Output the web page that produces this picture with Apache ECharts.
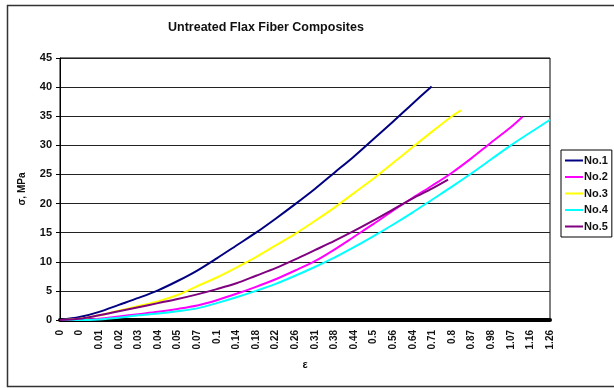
<!DOCTYPE html>
<html>
<head>
<meta charset="utf-8">
<script src="https://cdn.jsdelivr.net/npm/echarts@6/dist/echarts.min.js"></script>
<style>html,body{margin:0;padding:0;background:#fff}#c{width:614px;height:388px}</style>
</head>
<body>
<div id="c"></div>
<script>
var xLabels = ['0','0','0.01','0.02','0.03','0.04','0.05','0.07','0.1','0.14','0.18','0.22','0.26','0.31','0.38','0.44','0.5','0.56','0.64','0.71','0.8','0.87','0.98','1.07','1.16','1.26'];
var yTicks = [0,5,10,15,20,25,30,35,40,45];
var seriesNames = ['No.1','No.2','No.3','No.4','No.5'];
var seriesColors = ['#000080','#FF00FF','#FFFF00','#00FFFF','#800080'];
// [category position, stress MPa]
var no1 = [[0,0],[1,0.5],[2,1.4],[3,2.6],[4,3.8],[5,5.1],[6,6.7],[7,8.5],[8,10.6],[9,12.8],[10,15.0],[11,17.4],[12,19.9],[13,22.5],[14,25.3],[15,28.1],[16,31.1],[17,34.1],[18,37.2],[18.96,40.1]];
var no2 = [[0,0],[1,0],[2,0.2],[3,0.6],[4,1.0],[5,1.4],[6,1.9],[7,2.5],[8,3.4],[9,4.5],[10,5.7],[11,7.0],[12,8.5],[13,10.1],[14,12.1],[15,14.3],[16,16.5],[17,18.8],[18,21.0],[19,23.1],[20,25.3],[21,27.8],[22,30.5],[23,33.1],[23.6,34.9]];
var no3 = [[0,0],[1,0.2],[2,0.8],[3,1.6],[4,2.4],[5,3.2],[6,4.3],[7,5.8],[8,7.3],[9,9.0],[10,10.8],[11,12.8],[12,14.8],[13,17.0],[14,19.3],[15,21.8],[16,24.3],[17,27.0],[18,29.7],[19,32.4],[20,35.0],[20.46,36.0]];
var no4 = [[0,0],[1,0],[2,0.1],[3,0.4],[4,0.8],[5,1.1],[6,1.5],[7,2.0],[8,2.9],[9,3.9],[10,5.0],[11,6.2],[12,7.6],[13,9.1],[14,10.7],[15,12.5],[16,14.4],[17,16.4],[18,18.5],[19,20.7],[20,22.9],[21,25.2],[22,27.6],[23,30.0],[24,32.2],[25,34.4]];
var no5 = [[0,0],[1,0.2],[2,0.8],[3,1.5],[4,2.2],[5,2.9],[6,3.6],[7,4.4],[8,5.3],[9,6.3],[10,7.6],[11,8.9],[12,10.4],[13,12.0],[14,13.6],[15,15.3],[16,17.1],[17,19.0],[18,20.9],[19,22.6],[19.8,24.1]];
var allData = [no1,no2,no3,no4,no5];

var chart = echarts.init(document.getElementById('c'), null, {renderer:'canvas'});
var F = 'Liberation Sans, Arial, sans-serif';
chart.setOption({
  animation:false,
  backgroundColor:'#fff',
  title:{text:'Untreated Flax Fiber Composites',left:163,top:16,
    textStyle:{fontFamily:F,fontSize:12.5,fontWeight:'bold',color:'#111'}},
  graphic:[{type:'rect',shape:{x:7.5,y:5.5,width:620,height:381},
    style:{fill:'none',stroke:'#333',lineWidth:1.5},silent:true}],
  legend:{orient:'vertical',left:561,top:150,itemWidth:18,itemHeight:2,itemGap:5.5,
    padding:[5,4,5,4],borderColor:'#000',borderWidth:1,
    icon:'rect',
    textStyle:{fontFamily:F,fontSize:11,fontWeight:'bold',color:'#111',padding:[0,0,0,-4]},
    data:seriesNames},
  grid:{left:60,right:64,top:58,bottom:68,show:true,borderColor:'#000',borderWidth:1,backgroundColor:'#fff'},
  xAxis:{type:'value',min:0,max:xLabels.length-1,interval:1,
    name:'ε',nameLocation:'middle',nameGap:39,
    nameTextStyle:{fontFamily:F,fontSize:11,fontWeight:'bold',color:'#111'},
    axisLine:{show:true,onZero:false,lineStyle:{color:'#000',width:4}},
    axisTick:{show:false},splitLine:{show:false},
    axisLabel:{rotate:90,fontFamily:F,fontSize:10,fontWeight:'bold',color:'#111',margin:10,
      formatter:function(v){return xLabels[Math.round(v)]||'';}}},
  yAxis:{type:'value',min:0,max:45,interval:5,
    name:'σ, MPa',nameLocation:'middle',nameGap:33,nameRotate:90,
    nameTextStyle:{fontFamily:F,fontSize:10,fontWeight:'bold',color:'#111'},
    axisLine:{show:true,lineStyle:{color:'#000',width:1}},
    axisTick:{show:true,length:4,lineStyle:{color:'#000'}},
    splitLine:{show:true,lineStyle:{color:'#222',width:1}},
    axisLabel:{fontFamily:F,fontSize:11,fontWeight:'bold',color:'#111',margin:8,
      formatter:function(v){return yTicks.indexOf(v)>=0?String(v):'';}}},
  series:seriesNames.map(function(n,i){
    return {name:n,type:'line',data:allData[i],showSymbol:false,symbol:'none',smooth:0.3,
      lineStyle:{color:seriesColors[i],width:2},itemStyle:{color:seriesColors[i]}};
  })
});
</script>
</body>
</html>
